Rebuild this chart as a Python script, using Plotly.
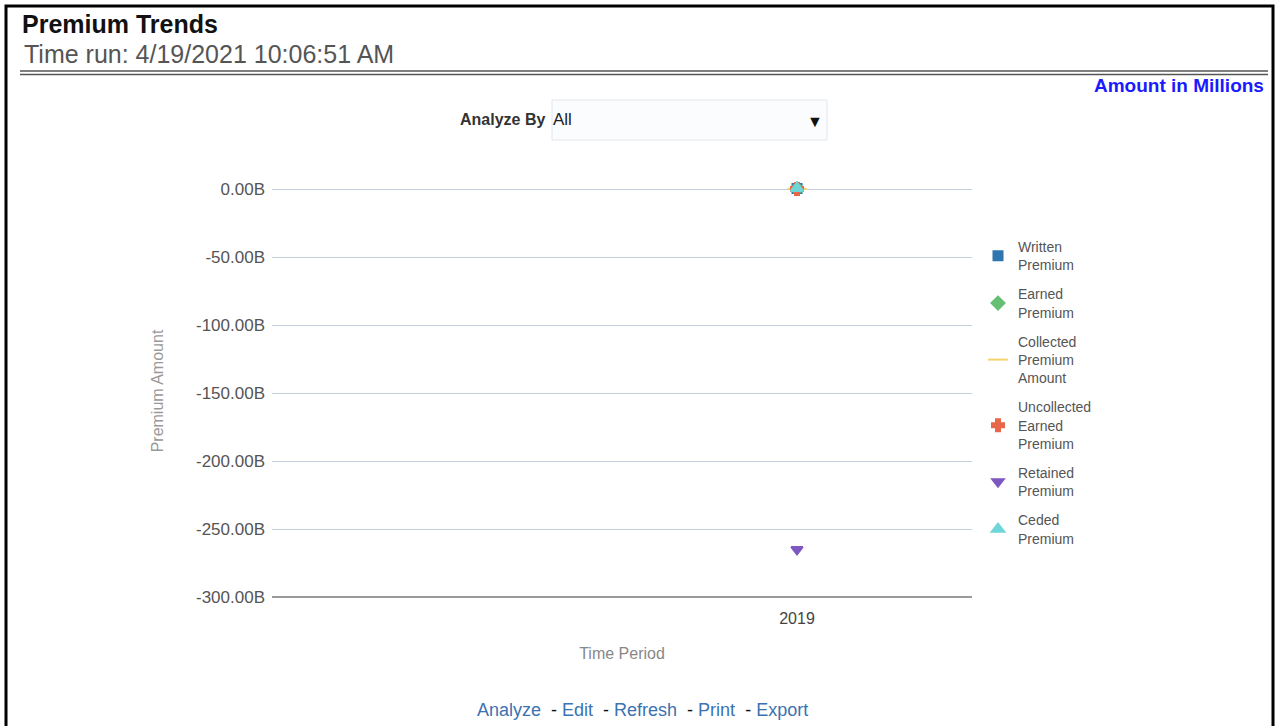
import plotly.graph_objects as go

# Reporting period and series values (billions)
periods = ["2019"]
written_premium = [0.4]
earned_premium = [0.3]
collected_premium = [0.2]
uncollected_earned = [0.1]
retained_premium = [-265.0]
ceded_premium = [0.6]

y_tick_vals = [0, -50, -100, -150, -200, -250, -300]
y_tick_text = ["0.00B", "-50.00B", "-100.00B", "-150.00B", "-200.00B", "-250.00B", "-300.00B"]

W, H = 1279, 726
ML, MR, MT, MB = 272, 307, 185, 129
PW, PH = W - ML - MR, H - MT - MB


def px(x):
    return (x - ML) / PW


def py(y):
    return (H - MB - y) / PH


series = [
    ("Written<br>Premium", written_premium, "#2f75b0", "square", 9),
    ("Earned<br>Premium", earned_premium, "#66bf73", "diamond", 10),
    ("Collected<br>Premium<br>Amount", collected_premium, "#f5d36a", "line-ew", 14),
    ("Uncollected<br>Earned<br>Premium", uncollected_earned, "#e8664a", "cross", 10),
    ("Retained<br>Premium", retained_premium, "#7e57c2", "triangle-down", 10),
    ("Ceded<br>Premium", ceded_premium, "#6fd6d8", "triangle-up", 11),
]

fig = go.Figure()
for i, (name, vals, color, sym, size) in enumerate(series):
    fig.add_trace(go.Scatter(
        x=periods, y=vals, name=name, mode="markers", legendgroup=f"g{i}",
        marker=dict(symbol=sym, size=size, color=color,
                    line=dict(color=color, width=2)),
        cliponaxis=False,
    ))

fig.update_layout(
    width=W, height=H,
    margin=dict(l=ML, r=MR, t=MT, b=MB),
    paper_bgcolor="white", plot_bgcolor="white",
    font=dict(family="Liberation Sans, Arial, sans-serif", size=15, color="#555"),
    showlegend=True,
    legend=dict(x=px(978), y=py(231), xanchor="left", yanchor="top",
                font=dict(size=14, color="#555"), tracegroupgap=8,
                bgcolor="rgba(0,0,0,0)"),
    xaxis=dict(type="category", range=[-1.5, 0.5], showgrid=False,
               showline=False, zeroline=False, ticks="", ticklabelstandoff=10,
               tickfont=dict(size=16, color="#444"),
               title=dict(text="Time Period", font=dict(size=16, color="#888"),
                          standoff=21)),
    yaxis=dict(range=[-300, 3], tickvals=y_tick_vals, ticktext=y_tick_text,
               showgrid=True, gridcolor="#c3cfdc", gridwidth=1,
               zeroline=False, showline=False,
               ticks="", ticklabelstandoff=6,
               tickfont=dict(size=17, color="#555"),
               title=dict(text="Premium Amount", font=dict(size=16, color="#999"),
                          standoff=28)),
)

shapes = []
# page frame
shapes.append(dict(type="rect", xref="paper", yref="paper",
                   x0=px(6), x1=px(1273), y0=py(6), y1=py(730),
                   line=dict(color="black", width=3), fillcolor="rgba(0,0,0,0)",
                   layer="below"))
# double rule under the title block
for yy in (71, 74.5):
    shapes.append(dict(type="line", xref="paper", yref="paper",
                       x0=px(20), x1=px(1268), y0=py(yy), y1=py(yy),
                       line=dict(color="#555", width=1.6)))
# dropdown box
shapes.append(dict(type="rect", xref="paper", yref="paper",
                   x0=px(552), x1=px(827), y0=py(100), y1=py(140),
                   line=dict(color="#e2e6ea", width=1), fillcolor="#fbfcfe"))
# bottom axis baseline
shapes.append(dict(type="line", xref="paper", yref="paper",
                   x0=0, x1=1, y0=0, y1=0,
                   line=dict(color="#9a9a9a", width=2)))
fig.update_layout(shapes=shapes)

ann = [
    dict(text="<b>Premium Trends</b>", x=px(20), y=py(24), xanchor="left", yanchor="middle",
         font=dict(size=25, color="#111")),
    dict(text="Time run: 4/19/2021 10:06:51 AM", x=px(22), y=py(54), xanchor="left",
         yanchor="middle", font=dict(size=25, color="#555")),
    dict(text="<b>Amount in Millions</b>", x=px(1266), y=py(85), xanchor="right",
         yanchor="middle", font=dict(size=19, color="#1a1aff")),
    dict(text="<b>Analyze By</b>", x=px(547), y=py(120), xanchor="right", yanchor="middle",
         font=dict(size=16, color="#333")),
    dict(text="All", x=px(551), y=py(120), xanchor="left", yanchor="middle",
         font=dict(size=17, color="#222")),
    dict(text="▼", x=px(815), y=py(121), xanchor="center", yanchor="middle",
         font=dict(size=16, color="#111")),
    dict(text=('<span style="color:#3a72b2">Analyze</span>'
               '<span style="color:#111">  - </span><span style="color:#3a72b2">Edit</span>'
               '<span style="color:#111">  - </span><span style="color:#3a72b2">Refresh</span>'
               '<span style="color:#111">  - </span><span style="color:#3a72b2">Print</span>'
               '<span style="color:#111">  - </span><span style="color:#3a72b2">Export</span>'),
         x=px(642), y=py(710), xanchor="center", yanchor="middle",
         font=dict(size=18, color="#3a72b2")),
]
for a in ann:
    a.update(xref="paper", yref="paper", showarrow=False)
fig.update_layout(annotations=ann)

fig.write_html("out.html")
